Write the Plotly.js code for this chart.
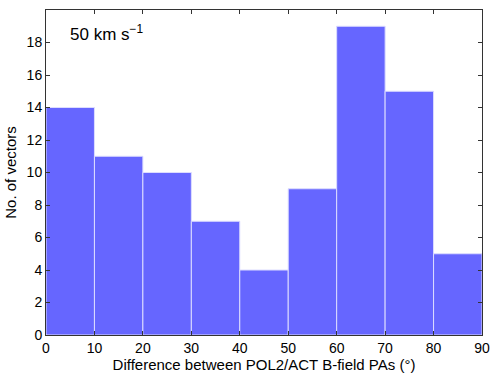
<!DOCTYPE html>
<html>
<head>
<meta charset="utf-8">
<script src="https://cdn.plot.ly/plotly-3.0.1.min.js"></script>
<style>
  html, body { margin: 0; padding: 0; background: #fff; }
  #chart { width: 498px; height: 379px; }
</style>
</head>
<body>
<div id="chart"></div>
<script>
// bin edges (degrees) and counts per bin
const binEdges = [0, 10, 20, 30, 40, 50, 60, 70, 80, 90];
const counts = [14, 11, 10, 7, 4, 9, 19, 15, 5];
const xTicks = [0, 10, 20, 30, 40, 50, 60, 70, 80, 90];
const yTicks = [0, 2, 4, 6, 8, 10, 12, 14, 16, 18];

let centers = [], widths = [];
for (let i = 0; i < counts.length; i++) {
    centers.push((binEdges[i] + binEdges[i + 1]) / 2);
    widths.push(binEdges[i + 1] - binEdges[i]);
}

const font = "Liberation Sans, Arial, Helvetica, sans-serif";

const trace = {
    type: 'bar',
    x: centers,
    y: counts,
    width: widths,
    marker: { color: '#6666ff', line: { color: '#dcdcff', width: 1 } },
    hoverinfo: 'none'
};

const axisCommon = {
    showline: true,
    linecolor: '#333',
    linewidth: 1,
    mirror: 'ticks',
    ticks: 'inside',
    ticklen: 4,
    tickcolor: '#333',
    showgrid: false,
    zeroline: false,
    tickfont: { family: font, size: 14, color: '#000' }
};

const layout = {
    width: 498,
    height: 379,
    margin: { l: 46, r: 16, t: 10, b: 44 },
    paper_bgcolor: '#fff',
    plot_bgcolor: '#fff',
    showlegend: false,
    bargap: 0,
    xaxis: Object.assign({}, axisCommon, {
        range: [0, 90],
        tickvals: xTicks,
        ticktext: xTicks.map(String),
        title: { text: 'Difference between POL2/ACT B-field PAs (°)', font: { family: font, size: 15, color: '#000' }, standoff: 3 }
    }),
    yaxis: Object.assign({}, axisCommon, {
        range: [0, 20],
        tickvals: yTicks,
        ticktext: yTicks.map(String),
        title: { text: 'No. of vectors', font: { family: font, size: 15, color: '#000' }, standoff: 6 }
    }),
    annotations: [{
        xref: 'paper', yref: 'paper',
        x: 0.05, y: 0.93,
        xanchor: 'left', yanchor: 'middle',
        text: '50 km s<sup>−1</sup>',
        showarrow: false,
        font: { family: font, size: 17, color: '#000' }
    }]
};

Plotly.newPlot('chart', [trace], layout, { displayModeBar: false, staticPlot: true });
</script>
</body>
</html>
